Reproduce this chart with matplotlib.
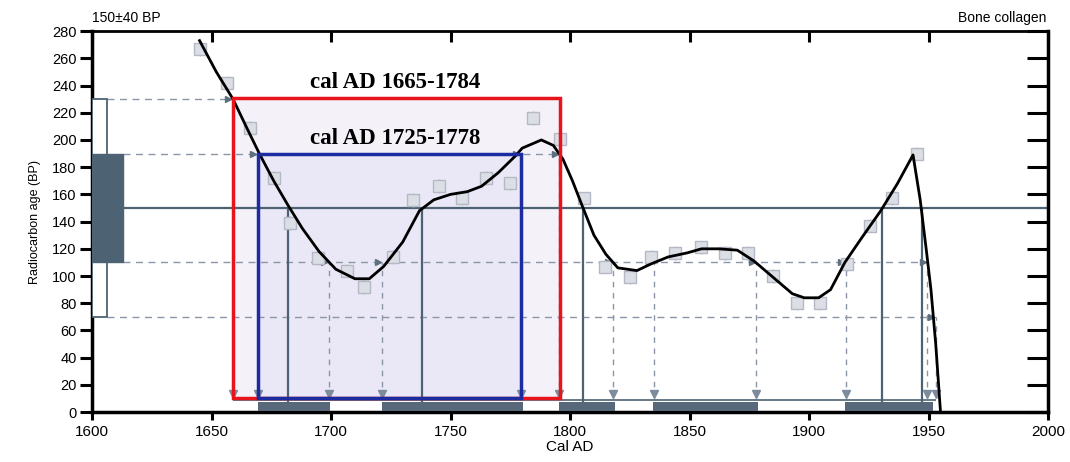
import matplotlib
matplotlib.use("Agg")
import matplotlib.pyplot as plt
from matplotlib.patches import Rectangle

plt.rcParams["font.family"] = ["Liberation Sans", "DejaVu Sans"]

# calibration curve (cal AD vs radiocarbon age BP)
curve_year = [1645, 1652, 1659, 1665, 1670, 1676, 1682, 1688, 1695, 1702, 1710, 1716,
              1722, 1730, 1737, 1743, 1750, 1757, 1763, 1770, 1777, 1780, 1788, 1793,
              1797, 1801, 1805, 1810, 1815, 1820, 1828, 1834, 1841, 1849, 1855, 1862,
              1870, 1877, 1885, 1893, 1898, 1904, 1909, 1915, 1922, 1930, 1937, 1943.5,
              1946.5, 1949, 1951, 1953, 1955]
curve_bp = [273, 250, 230, 208, 190, 170, 152, 135, 118, 105, 98, 98,
            107, 125, 148, 156, 160, 162, 166, 176, 188, 194, 200, 196,
            186, 170, 152, 130, 116, 106, 104, 109, 114, 117, 120, 120,
            119, 111, 99, 87, 84, 84, 90, 110, 128, 148, 168, 189,
            156, 120, 90, 50, 0]

# calibration data points (grey squares)
cal_year = [1645, 1656.5, 1666, 1676, 1683, 1694.5, 1706.5, 1714, 1726, 1734.5, 1745,
            1755, 1765, 1775, 1784.5, 1796, 1806, 1814.6, 1825, 1834, 1844, 1855, 1865,
            1874.5, 1885, 1895, 1904.6, 1916, 1925.5, 1934.7, 1945]
cal_bp = [267, 242, 209, 172, 139, 113, 104, 92, 114, 156, 166, 157, 172, 168, 216,
          201, 157, 107, 99, 114, 117, 121, 117, 117, 100, 80, 80, 109, 137, 157, 190]

measured_bp = 150
sigma1 = [110, 190]
sigma2 = [70, 230]

# where the curve meets the measured age and the sigma bounds
mid_cross = [1682, 1738, 1805.5, 1930.5, 1947.3]
s1_cross = [1669.5, 1699, 1721.5, 1779.5, 1795.5, 1818, 1835, 1878, 1915.5, 1949.5]
s1_cross_bp = [190, 110, 110, 190, 190, 110, 110, 110, 110, 110]
s2_cross = [1659, 1953]
s2_cross_bp = [230, 70]

# 1-sigma calibrated ranges (bars on the x axis)
range_start = [1669.5, 1721.3, 1795.4, 1834.7, 1915]
range_end = [1699.6, 1780.3, 1818.8, 1878.7, 1952]

red_box = [1659, 1796]
blue_box = [1669.5, 1779.5]
red_label = "cal AD 1665-1784"
blue_label = "cal AD 1725-1778"

slate = "#4d6272"
dash_c = "#8a96a8"

fig = plt.figure(figsize=(10.7, 4.62), dpi=100)
ax = fig.add_axes([0.086, 0.108, 0.8935, 0.8247])
ax.set_xlim(1600, 2000)
ax.set_ylim(0, 280)

# highlighted ranges
ax.add_patch(Rectangle((red_box[0], 10), red_box[1] - red_box[0], sigma2[1] + 1 - 10,
                       facecolor="#f4f1f9", edgecolor="none", zorder=0))
ax.add_patch(Rectangle((blue_box[0], 10), blue_box[1] - blue_box[0], sigma1[1] - 10,
                       facecolor="#eae8f6", edgecolor="none", zorder=0))

# measured age and sigma box on the y axis
ax.axhline(measured_bp, color=slate, linewidth=1.6, zorder=2)
ax.add_patch(Rectangle((1600, sigma2[0]), 6.3, sigma2[1] - sigma2[0], facecolor="white",
                       edgecolor=slate, linewidth=1.3, zorder=3))
ax.add_patch(Rectangle((1600, sigma1[0]), 13, sigma1[1] - sigma1[0], facecolor=slate,
                       edgecolor=slate, linewidth=1, zorder=3))

# dashed sigma lines
ax.hlines(sigma2[1], 1606.3, s2_cross[0], colors=dash_c, linestyles=(0, (5, 4)), linewidth=1, zorder=2)
ax.hlines(sigma1[1], 1613, s1_cross[4], colors=dash_c, linestyles=(0, (5, 4)), linewidth=1, zorder=2)
ax.hlines(sigma1[0], 1613, s1_cross[-1], colors=dash_c, linestyles=(0, (5, 4)), linewidth=1, zorder=2)
ax.hlines(sigma2[0], 1606.3, s2_cross[1], colors=dash_c, linestyles=(0, (5, 4)), linewidth=1, zorder=2)

# drop lines from the crossings
for x in mid_cross:
    ax.vlines(x, 0, measured_bp, colors=slate, linewidth=1.6, zorder=2)
for x, y in zip(s1_cross + s2_cross, s1_cross_bp + s2_cross_bp):
    ax.vlines(x, 10, y, colors=dash_c, linestyles=(0, (4, 4)), linewidth=1, zorder=2)
    ax.plot(x - 2, y, marker=">", markersize=5, color="#5d7080", zorder=4)
    ax.plot(x, 13, marker="v", markersize=6, color="#7d8b9c", zorder=4)

ax.hlines(9, red_box[0], range_end[-1] + 1, colors=slate, linewidth=1.2, zorder=2)
for a, b in zip(range_start, range_end):
    ax.add_patch(Rectangle((a, 0.5), b - a, 7, facecolor="#56687a", edgecolor="none", zorder=3))

# calibration data
ax.errorbar(cal_year, cal_bp, yerr=5, fmt="s", markersize=8, markerfacecolor="#dcdee5",
            markeredgecolor="#b4b9c5", ecolor="#b4b9c5", elinewidth=1, capsize=0, zorder=4)
ax.plot(curve_year, curve_bp, color="black", linewidth=2, zorder=5)

# red / blue boxes
ax.add_patch(Rectangle((red_box[0], 10), red_box[1] - red_box[0], sigma2[1] + 1 - 10,
                       facecolor="none", edgecolor="#e8141c", linewidth=2.5, zorder=6))
ax.add_patch(Rectangle((blue_box[0], 10), blue_box[1] - blue_box[0], sigma1[1] - 10,
                       facecolor="none", edgecolor="#1c2ca0", linewidth=2.5, zorder=7))
ax.text(1727, 242, red_label, ha="center", va="center", fontsize=16.5, fontweight="bold",
        family="Liberation Serif", zorder=8)
ax.text(1727, 201, blue_label, ha="center", va="center", fontsize=16.5, fontweight="bold",
        family="Liberation Serif", zorder=8)

# axes styling
ax.set_xticks(range(1600, 2001, 50))
ax.set_yticks(range(0, 281, 20))
ax.tick_params(axis="x", direction="out", length=6, width=2.2, labelsize=11, pad=3)
ax.tick_params(axis="y", direction="out", length=9, width=2.2, labelsize=10.5, pad=2)
for s in ["left", "bottom", "right"]:
    ax.spines[s].set_linewidth(2.5)
ax.spines["top"].set_linewidth(2)
ax.set_xlabel("Cal AD", fontsize=11, labelpad=1)
ax.set_ylabel("Radiocarbon age (BP)", fontsize=9, labelpad=8)

top = ax.secondary_xaxis("top")
top.set_xticks(range(1600, 2001, 50))
top.tick_params(direction="in", length=8, width=2.2, labeltop=False)
right = ax.secondary_yaxis("right")
right.set_yticks(range(0, 281, 20))
right.tick_params(direction="in", length=15, width=2.2, labelright=False)

ax.text(0.0, 1.035, "150\u00b140 BP", transform=ax.transAxes, ha="left", va="center", fontsize=10)
ax.text(0.998, 1.035, "Bone collagen", transform=ax.transAxes, ha="right", va="center", fontsize=10)

plt.savefig("out.png", dpi=100)
print("Saved out.png")
